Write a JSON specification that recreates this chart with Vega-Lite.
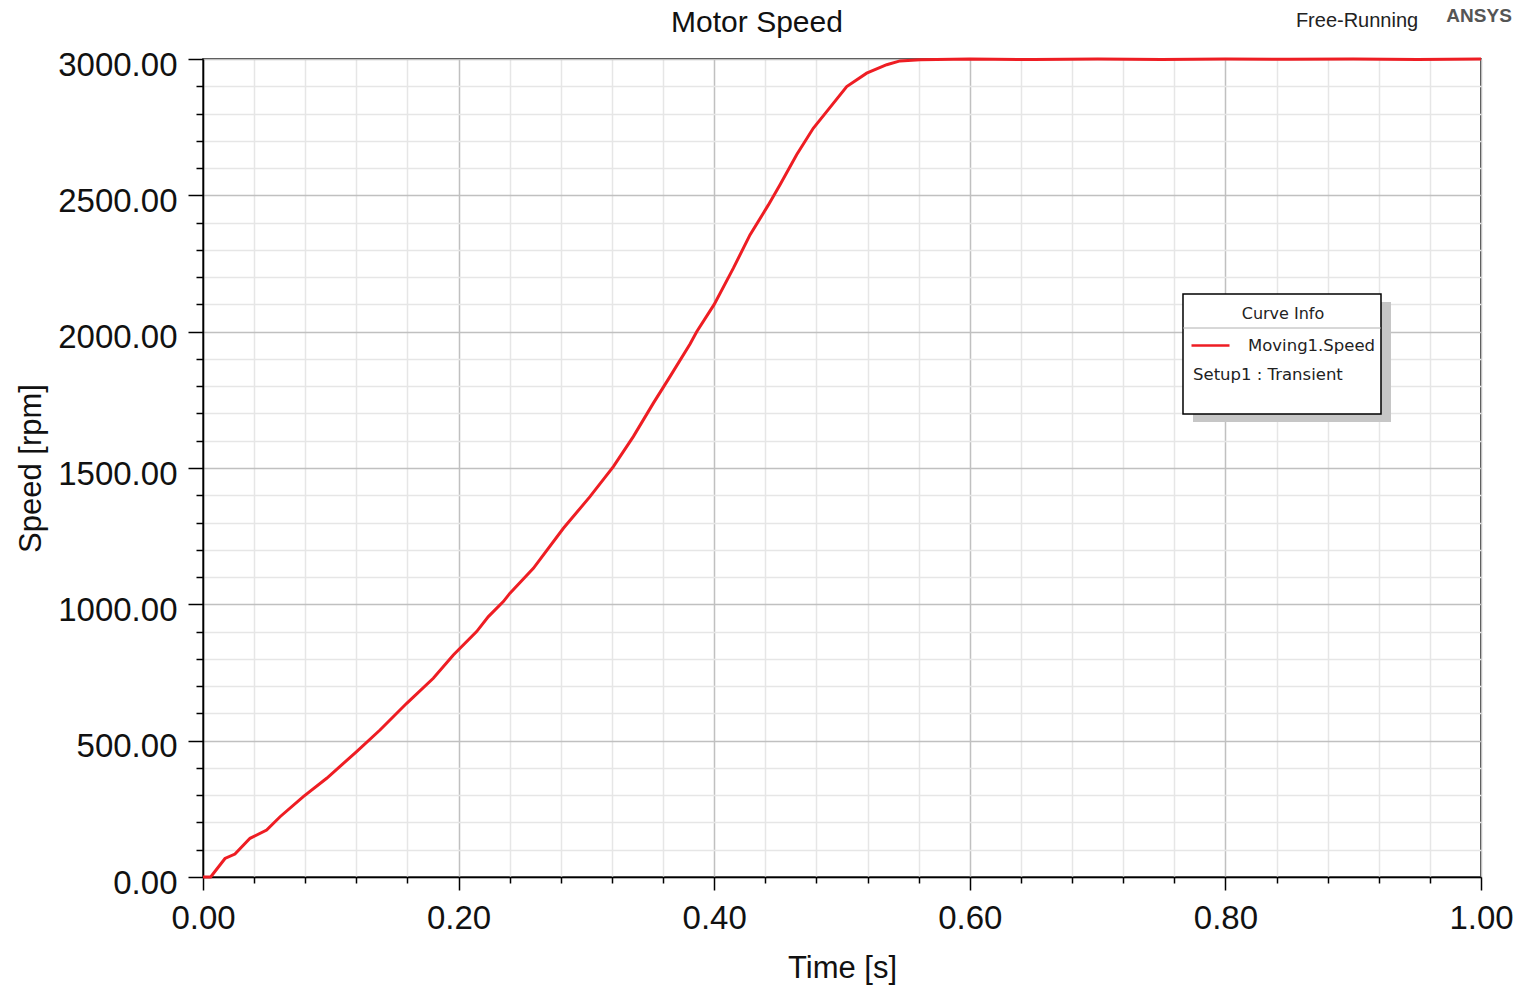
{
  "$schema": "https://vega.github.io/schema/vega-lite/v6.json",
  "width": 1278,
  "height": 818,
  "autosize": {"type": "none"},
  "padding": {"left": 203, "top": 59, "right": 40, "bottom": 110},
  "background": "white",
  "config": {
    "font": "Liberation Sans",
    "view": {"stroke": "black", "strokeWidth": 1.5}
  },
  "title": {
    "text": "Motor Speed",
    "fontSize": 30,
    "fontWeight": "normal",
    "color": "#111111",
    "anchor": "middle",
    "frame": "group",
    "dx": -85,
    "offset": -31
  },
  "layer": [
    {
      "data": {"values": [{"part": "shadow"}]},
      "mark": {"type": "rect", "color": "#c6c6c6", "clip": false},
      "encoding": {
        "x": {"datum": 0.77465, "type": "quantitative"},
        "x2": {"datum": 0.92958},
        "y": {"datum": 2108.8, "type": "quantitative"},
        "y2": {"datum": 1668.7}
      }
    },
    {
      "data": {"values": [{"part": "box"}]},
      "mark": {"type": "rect", "fill": "white", "stroke": "black", "strokeWidth": 1.5, "clip": false},
      "encoding": {
        "x": {"datum": 0.76682, "type": "quantitative"},
        "x2": {"datum": 0.92175},
        "y": {"datum": 2138.1, "type": "quantitative"},
        "y2": {"datum": 1698.0}
      }
    },
    {
      "data": {"values": [{"part": "separator"}]},
      "mark": {"type": "rule", "color": "#b0b0b0", "strokeWidth": 1, "clip": false},
      "encoding": {
        "x": {"datum": 0.76682, "type": "quantitative"},
        "x2": {"datum": 0.92175},
        "y": {"datum": 2013.4, "type": "quantitative"}
      }
    },
    {
      "data": {
        "values": [
          {"t": 0, "speed": 0, "curve": "Moving1.Speed"},
          {"t": 0.006, "speed": 0, "curve": "Moving1.Speed"},
          {"t": 0.0172, "speed": 68, "curve": "Moving1.Speed"},
          {"t": 0.025, "speed": 84, "curve": "Moving1.Speed"},
          {"t": 0.0368, "speed": 142, "curve": "Moving1.Speed"},
          {"t": 0.0498, "speed": 172, "curve": "Moving1.Speed"},
          {"t": 0.0603, "speed": 221, "curve": "Moving1.Speed"},
          {"t": 0.0785, "speed": 295, "curve": "Moving1.Speed"},
          {"t": 0.0968, "speed": 362, "curve": "Moving1.Speed"},
          {"t": 0.1202, "speed": 460, "curve": "Moving1.Speed"},
          {"t": 0.1385, "speed": 539, "curve": "Moving1.Speed"},
          {"t": 0.1594, "speed": 637, "curve": "Moving1.Speed"},
          {"t": 0.1802, "speed": 729, "curve": "Moving1.Speed"},
          {"t": 0.1959, "speed": 814, "curve": "Moving1.Speed"},
          {"t": 0.2141, "speed": 900, "curve": "Moving1.Speed"},
          {"t": 0.2233, "speed": 955, "curve": "Moving1.Speed"},
          {"t": 0.235, "speed": 1010, "curve": "Moving1.Speed"},
          {"t": 0.2402, "speed": 1041, "curve": "Moving1.Speed"},
          {"t": 0.2585, "speed": 1132, "curve": "Moving1.Speed"},
          {"t": 0.282, "speed": 1279, "curve": "Moving1.Speed"},
          {"t": 0.3028, "speed": 1395, "curve": "Moving1.Speed"},
          {"t": 0.3211, "speed": 1505, "curve": "Moving1.Speed"},
          {"t": 0.3367, "speed": 1615, "curve": "Moving1.Speed"},
          {"t": 0.3524, "speed": 1738, "curve": "Moving1.Speed"},
          {"t": 0.3654, "speed": 1835, "curve": "Moving1.Speed"},
          {"t": 0.3811, "speed": 1955, "curve": "Moving1.Speed"},
          {"t": 0.3863, "speed": 2000, "curve": "Moving1.Speed"},
          {"t": 0.4, "speed": 2100, "curve": "Moving1.Speed"},
          {"t": 0.415, "speed": 2233, "curve": "Moving1.Speed"},
          {"t": 0.428, "speed": 2355, "curve": "Moving1.Speed"},
          {"t": 0.4424, "speed": 2465, "curve": "Moving1.Speed"},
          {"t": 0.4515, "speed": 2539, "curve": "Moving1.Speed"},
          {"t": 0.4645, "speed": 2649, "curve": "Moving1.Speed"},
          {"t": 0.4775, "speed": 2746, "curve": "Moving1.Speed"},
          {"t": 0.488, "speed": 2807, "curve": "Moving1.Speed"},
          {"t": 0.5037, "speed": 2899, "curve": "Moving1.Speed"},
          {"t": 0.5193, "speed": 2948, "curve": "Moving1.Speed"},
          {"t": 0.535, "speed": 2979, "curve": "Moving1.Speed"},
          {"t": 0.5454, "speed": 2993, "curve": "Moving1.Speed"},
          {"t": 0.561, "speed": 2997, "curve": "Moving1.Speed"},
          {"t": 0.6, "speed": 3000, "curve": "Moving1.Speed"},
          {"t": 0.65, "speed": 2998, "curve": "Moving1.Speed"},
          {"t": 0.7, "speed": 3000, "curve": "Moving1.Speed"},
          {"t": 0.75, "speed": 2998, "curve": "Moving1.Speed"},
          {"t": 0.8, "speed": 3000, "curve": "Moving1.Speed"},
          {"t": 0.85, "speed": 2999, "curve": "Moving1.Speed"},
          {"t": 0.9, "speed": 3000, "curve": "Moving1.Speed"},
          {"t": 0.95, "speed": 2998, "curve": "Moving1.Speed"},
          {"t": 1.0, "speed": 3000, "curve": "Moving1.Speed"}
        ]
      },
      "mark": {"type": "line", "strokeWidth": 3, "clip": false},
      "encoding": {
        "x": {
          "field": "t",
          "type": "quantitative",
          "scale": {"domain": [0, 1], "nice": false, "zero": false},
          "axis": {
            "title": "Time [s]",
            "titleFontSize": 31,
            "titleFontWeight": "normal",
            "titleColor": "#111111",
            "titlePadding": 18,
            "tickCount": 100,
            "values": [0, 0.04, 0.08, 0.12, 0.16, 0.2, 0.24, 0.28, 0.32, 0.36, 0.4, 0.44, 0.48, 0.52, 0.56, 0.6, 0.64, 0.68, 0.72, 0.76, 0.8, 0.84, 0.88, 0.92, 0.96, 1],
            "labelExpr": "abs(datum.value*5 - round(datum.value*5)) < 0.001 ? format(datum.value, '.2f') : ''",
            "labelFontSize": 33,
            "labelColor": "#111111",
            "labelFlush": false,
            "labelOverlap": false,
            "labelBound": false,
            "labelPadding": 12,
            "tickColor": "black",
            "tickWidth": 1.5,
            "tickSize": {"condition": {"test": "abs(datum.value*5 - round(datum.value*5)) < 0.001", "value": 13}, "value": 6},
            "domainColor": "black",
            "domainWidth": 1.5,
            "grid": true,
            "gridWidth": 1.5,
            "gridColor": {"condition": {"test": "abs(datum.value*5 - round(datum.value*5)) < 0.001", "value": "#c0c0c0"}, "value": "#e6e6e6"}
          }
        },
        "y": {
          "field": "speed",
          "type": "quantitative",
          "scale": {"domain": [0, 3000], "nice": false},
          "axis": {
            "title": "Speed [rpm]",
            "titleFontSize": 31,
            "titleFontWeight": "normal",
            "titleColor": "#111111",
            "titlePadding": 10,
            "tickCount": 100,
            "values": [0, 100, 200, 300, 400, 500, 600, 700, 800, 900, 1000, 1100, 1200, 1300, 1400, 1500, 1600, 1700, 1800, 1900, 2000, 2100, 2200, 2300, 2400, 2500, 2600, 2700, 2800, 2900, 3000],
            "labelExpr": "datum.value % 500 === 0 ? format(datum.value, '.2f') : ''",
            "labelFontSize": 33,
            "labelColor": "#111111",
            "labelFlush": false,
            "labelOverlap": false,
            "labelBound": false,
            "labelPadding": 11,
            "labelOffset": 6,
            "tickColor": "black",
            "tickWidth": 1.5,
            "tickSize": {"condition": {"test": "datum.value % 500 === 0", "value": 15}, "value": 7},
            "domainColor": "black",
            "domainWidth": 1.5,
            "grid": true,
            "gridWidth": 1.5,
            "gridColor": {"condition": {"test": "datum.value % 500 === 0", "value": "#c0c0c0"}, "value": "#e6e6e6"}
          }
        },
        "color": {
          "field": "curve",
          "type": "nominal",
          "scale": {"domain": ["Moving1.Speed", "Setup1 : Transient"], "range": ["#ee1d23", "#ffffff"]},
          "legend": {
            "title": "Curve Info",
            "orient": "none",
            "legendX": 978,
            "legendY": 236,
            "titleAnchor": "middle",
            "titleFont": "DejaVu Sans",
            "titleFontSize": 16,
            "titleFontWeight": "normal",
            "titleColor": "#222222",
            "titlePadding": 5,
            "padding": 9,
            "symbolType": "stroke",
            "symbolSize": 1444,
            "symbolStrokeWidth": 2.5,
            "labelFont": "DejaVu Sans",
            "labelFontSize": 16.5,
            "labelColor": "#222222",
            "labelOffset": 17,
            "labelLimit": 300,
            "rowPadding": -3,
            "encode": {
              "title": {"update": {"dx": {"value": 0}, "dy": {"value": 2}}},
              "labels": {"update": {"dx": {"signal": "datum.value === 'Setup1 : Transient' ? -55 : 0"}}}
            }
          }
        }
      }
    },
    {
      "data": {"values": [{"label": "Free-Running"}]},
      "mark": {"type": "text", "fontSize": 20, "color": "#222222", "align": "center", "baseline": "middle"},
      "encoding": {
        "x": {"datum": 0.903, "type": "quantitative"},
        "y": {"datum": 3140, "type": "quantitative"},
        "text": {"field": "label"}
      }
    },
    {
      "data": {"values": [{"label": "ANSYS"}]},
      "mark": {"type": "text", "fontSize": 19, "fontWeight": "bold", "color": "#555555", "align": "center", "baseline": "middle"},
      "encoding": {
        "x": {"datum": 0.9985, "type": "quantitative"},
        "y": {"datum": 3158, "type": "quantitative"},
        "text": {"field": "label"}
      }
    }
  ]
}
